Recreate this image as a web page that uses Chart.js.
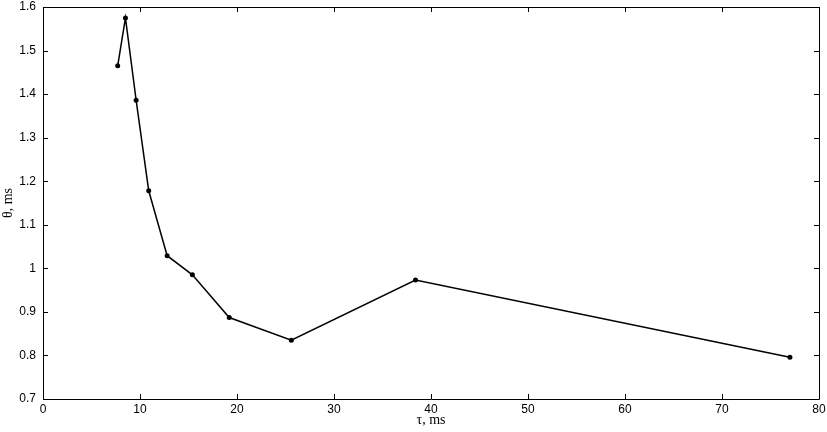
<!DOCTYPE html>
<html>
<head>
<meta charset="utf-8">
<script src="https://cdn.jsdelivr.net/npm/chart.js@4/dist/chart.umd.min.js"></script>
<style>
    html, body { margin: 0; padding: 0; background: #fff; }
    #wrap { width: 827px; height: 432px; }
</style>
</head>
<body>
<div id="wrap"><canvas id="chart" width="827" height="432"></canvas></div>
<script>
// values
const tauValues = [7.7, 8.5, 9.6, 10.9, 12.8, 15.4, 19.2, 25.6, 38.4, 77.0];
const thetaValues = [1.465, 1.575, 1.386, 1.178, 1.029, 0.985, 0.887, 0.835, 0.973, 0.796];
const xTicks = [0, 10, 20, 30, 40, 50, 60, 70, 80];
const yTicks = [0.7, 0.8, 0.9, 1.0, 1.1, 1.2, 1.3, 1.4, 1.5, 1.6];

const TICK_LEN = 5;

// MATLAB-like box with inward ticks on all four sides
const boxPlugin = {
    id: "matlabBox",
    afterDraw(chart) {
        const { ctx, chartArea: area, scales } = chart;
        ctx.save();
        ctx.strokeStyle = "#000";
        ctx.lineWidth = 1;
        ctx.beginPath();
        ctx.rect(Math.round(area.left) + 0.5, Math.round(area.top) + 0.5,
            Math.round(area.right - area.left), Math.round(area.bottom - area.top));
        xTicks.forEach(v => {
            const px = Math.round(scales.x.getPixelForValue(v)) + 0.5;
            ctx.moveTo(px, area.bottom);
            ctx.lineTo(px, area.bottom - TICK_LEN);
            ctx.moveTo(px, area.top);
            ctx.lineTo(px, area.top + TICK_LEN);
        });
        yTicks.forEach(v => {
            const py = Math.round(scales.y.getPixelForValue(v)) + 0.5;
            ctx.moveTo(area.left, py);
            ctx.lineTo(area.left + TICK_LEN, py);
            ctx.moveTo(area.right, py);
            ctx.lineTo(area.right - TICK_LEN, py);
        });
        ctx.stroke();
        ctx.restore();
    }
};

const points = tauValues.map((t, i) => ({ x: t, y: thetaValues[i] }));

new Chart(document.getElementById("chart"), {
    type: "scatter",
    data: {
        datasets: [{
            data: points,
            showLine: true,
            borderColor: "#000",
            borderWidth: 1.5,
            backgroundColor: "#000",
            pointRadius: 2.5,
            pointBorderWidth: 0,
            pointHoverRadius: 2.5,
            tension: 0
        }]
    },
    options: {
        responsive: false,
        animation: false,
        layout: { padding: { left: 0, right: 8, top: 7, bottom: 0 } },
        plugins: {
            legend: { display: false },
            tooltip: { enabled: false }
        },
        scales: {
            x: {
                type: "linear",
                min: 0,
                max: 80,
                afterFit: scale => {
                    scale.height = 33;
                    scale.paddingLeft = 0;
                    scale.paddingRight = 0;
                },
                afterBuildTicks: scale => { scale.ticks = xTicks.map(v => ({ value: v })); },
                grid: { display: false, drawTicks: false },
                border: { display: false },
                ticks: {
                    padding: 3,
                    color: "#000",
                    font: { family: "Liberation Sans", size: 12 },
                    maxRotation: 0,
                    callback: v => String(v)
                },
                title: {
                    display: true,
                    text: "τ, ms",
                    color: "#000",
                    padding: { top: 0, bottom: 3 },
                    font: { family: "Liberation Serif", size: 14 }
                }
            },
            y: {
                type: "linear",
                min: 0.7,
                max: 1.6,
                afterFit: scale => {
                    scale.width = 43;
                    scale.paddingTop = 0;
                    scale.paddingBottom = 0;
                },
                afterBuildTicks: scale => { scale.ticks = yTicks.map(v => ({ value: v })); },
                grid: { display: false, drawTicks: false },
                border: { display: false },
                ticks: {
                    padding: 7,
                    color: "#000",
                    font: { family: "Liberation Sans", size: 12 },
                    callback: v => String(+v.toFixed(1))
                },
                title: {
                    display: true,
                    text: "θ, ms",
                    color: "#000",
                    padding: { top: 0, bottom: 0 },
                    font: { family: "Liberation Serif", size: 14 }
                }
            }
        }
    },
    plugins: [boxPlugin]
});
</script>
</body>
</html>
